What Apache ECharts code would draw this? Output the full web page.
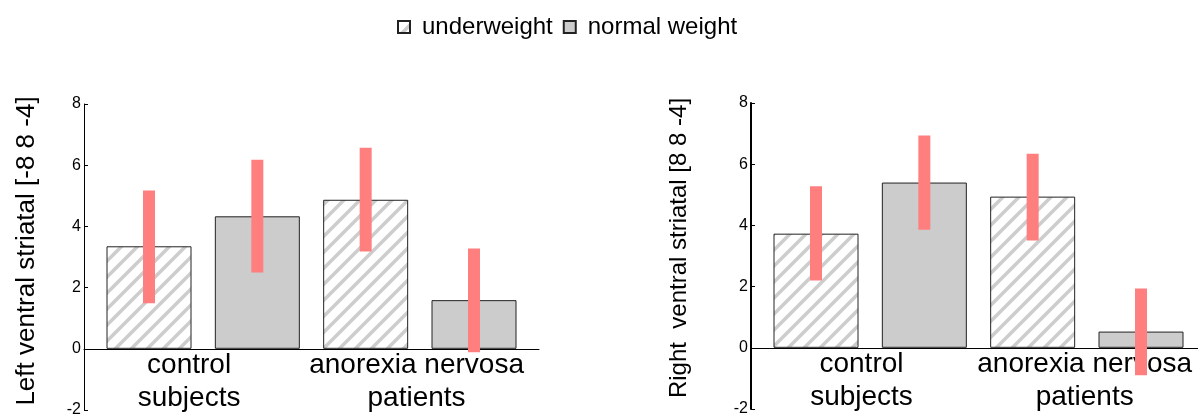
<!DOCTYPE html>
<html>
<head>
<meta charset="utf-8">
<script src="https://cdn.jsdelivr.net/npm/echarts@6/dist/echarts.min.js"></script>
<style>
html,body{margin:0;padding:0;background:#fff;}
#chart{width:1198px;height:414px;}
</style>
</head>
<body>
<div id="chart"></div>
<script>
// ---- data ----
const seriesNames = ['underweight', 'normal weight'];
const barPositions = [1, 2, 3, 4];
const barGroup = ['underweight', 'normal weight', 'underweight', 'normal weight'];
const groupLabels = ['control\nsubjects', 'anorexia nervosa\npatients'];
const leftGroupLabelPos = [1.37, 3.47];
const rightGroupLabelPos = [1.42, 3.48];

const leftMeans = [3.35, 4.33, 4.87, 1.59];
const leftLow   = [1.49, 2.49, 3.18, -0.11];
const leftHigh  = [5.17, 6.18, 6.57, 3.28];

const rightMeans = [3.73, 5.40, 4.94, 0.53];
const rightLow   = [2.20, 3.86, 3.51, -0.90];
const rightHigh  = [5.28, 6.94, 6.34, 1.94];

const leftTitle = 'Left ventral striatal [-8 8 -4]';
const rightTitle = 'Right  ventral striatal [8 8 -4]';
const yMin = -2, yMax = 8, yStep = 2;

// ---- styles ----
const FONT = 'Liberation Sans, Arial, Helvetica, sans-serif';
const GRID_H = 306;
function hatch() {
  const S = 16;
  const c = document.createElement('canvas');
  c.width = S; c.height = S;
  const g = c.getContext('2d');
  g.fillStyle = '#ffffff';
  g.fillRect(0, 0, S, S);
  g.strokeStyle = '#cdcdcd';
  g.lineWidth = 3.5;
  g.beginPath();
  g.moveTo(-S, S); g.lineTo(S, -S);
  g.moveTo(0, S); g.lineTo(S, 0);
  g.moveTo(0, 2 * S); g.lineTo(2 * S, 0);
  g.stroke();
  return c;
}
const hatchCanvas = hatch();
const seriesColors = {
  'underweight': { image: hatchCanvas, repeat: 'repeat' },
  'normal weight': '#cccccc'
};

function makeGrid(left, top) {
  return { left: left, top: top, width: 455, height: GRID_H, containLabel: false, outerBoundsMode: 'none' };
}
function makeX(idx, labelPos) {
  // labels sit just under the zero line (distance of zero line above grid bottom)
  const zeroAboveBottom = GRID_H * (0 - yMin) / (yMax - yMin);
  return {
    type: 'value', gridIndex: idx, min: 0.4, max: 4.6,
    splitLine: { show: false },
    axisTick: { show: false },
    axisLine: { onZero: true, lineStyle: { color: '#000', width: 1 } },
    axisLabel: {
      customValues: labelPos,
      color: '#000', fontFamily: FONT, fontSize: 28, lineHeight: 33,
      margin: -zeroAboveBottom,
      formatter: function (v) {
        let best = 0;
        for (let i = 0; i < labelPos.length; i++) {
          if (Math.abs(labelPos[i] - v) < Math.abs(labelPos[best] - v)) best = i;
        }
        return groupLabels[best];
      }
    }
  };
}
function makeY(idx, title, gap, lineW, fs, pad) {
  return {
    type: 'value', gridIndex: idx, min: yMin, max: yMax, interval: yStep,
    name: title, nameLocation: 'middle', nameRotate: 90, nameGap: gap,
    nameTextStyle: { color: '#000', fontFamily: FONT, fontSize: fs, padding: pad },
    splitLine: { show: false },
    axisLine: { show: true, lineStyle: { color: '#000', width: lineW } },
    axisTick: { show: true, inside: true, length: 4, lineStyle: { color: '#000' } },
    axisLabel: { color: '#000', fontFamily: FONT, fontSize: 16, margin: 3 }
  };
}
function barSeries(idx, name, means) {
  const data = [];
  for (let i = 0; i < barPositions.length; i++) {
    if (barGroup[i] === name) data.push([barPositions[i], means[i]]);
  }
  return {
    type: 'bar', name: name, xAxisIndex: idx, yAxisIndex: idx,
    data: data, barWidth: 85, barGap: '-100%',
    itemStyle: { color: seriesColors[name], borderColor: '#222', borderWidth: 1 },
    emphasis: { disabled: true }, z: 2
  };
}
function errSeries(idx, low, high) {
  const data = barPositions.map((x, i) => [x, low[i], high[i]]);
  return {
    type: 'custom', xAxisIndex: idx, yAxisIndex: idx, data: data, z: 5,
    renderItem: function (params, api) {
      const x = api.value(0);
      const pHigh = api.coord([x, api.value(2)]);
      const pLow = api.coord([x, api.value(1)]);
      const w = 12;
      return {
        type: 'rect',
        shape: { x: pHigh[0] - w / 2, y: pHigh[1], width: w, height: pLow[1] - pHigh[1] },
        style: { fill: '#ff7f7f' }
      };
    }
  };
}

const chart = echarts.init(document.getElementById('chart'), null, { renderer: 'canvas' });
chart.setOption({
  animation: false,
  backgroundColor: '#ffffff',
  textStyle: { fontFamily: FONT },
  legend: {
    data: seriesNames, left: 392, top: 10, icon: 'rect',
    itemWidth: 12, itemHeight: 12, itemGap: 10,
    textStyle: { color: '#000', fontFamily: FONT, fontSize: 24, padding: [0, 0, 0, 7] }
  },
  grid: [makeGrid(84, 104), makeGrid(751, 103)],
  xAxis: [makeX(0, leftGroupLabelPos), makeX(1, rightGroupLabelPos)],
  yAxis: [makeY(0, leftTitle, 44, 1, 26, [0, 0, 0, 12]), makeY(1, rightTitle, 60, 2, 24, [0, 0, 0, 16])],
  series: [
    barSeries(0, 'underweight', leftMeans),
    barSeries(0, 'normal weight', leftMeans),
    errSeries(0, leftLow, leftHigh),
    barSeries(1, 'underweight', rightMeans),
    barSeries(1, 'normal weight', rightMeans),
    errSeries(1, rightLow, rightHigh)
  ]
});
</script>
</body>
</html>
